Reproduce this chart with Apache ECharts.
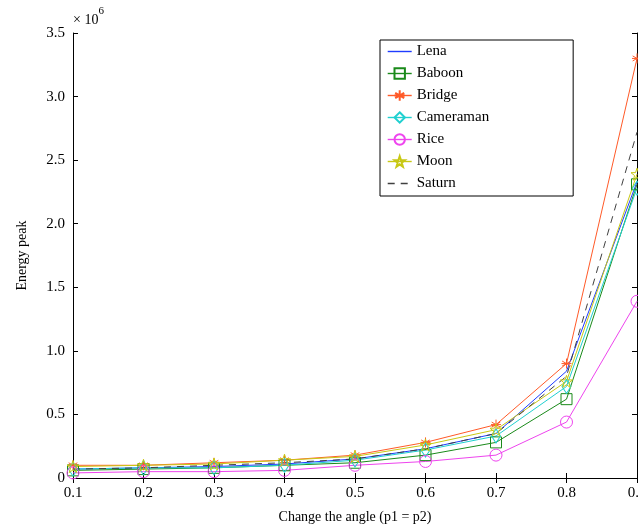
<!DOCTYPE html>
<html>
<head>
<meta charset="utf-8">
<script src="https://cdn.jsdelivr.net/npm/echarts@6/dist/echarts.min.js"></script>
<style>
  html, body { margin: 0; padding: 0; background: #fff; }
  #main { width: 638px; height: 525px; }
</style>
</head>
<body>
<div id="main"></div>
<script>
// angles on the x axis
var angles = ['0.1', '0.2', '0.3', '0.4', '0.5', '0.6', '0.7', '0.8', '0.9'];
// energy peak values, in units of 10^6
var lena      = [0.07, 0.08, 0.09, 0.11, 0.15, 0.23, 0.35, 0.84, 2.33];
var baboon    = [0.06, 0.07, 0.08, 0.10, 0.12, 0.18, 0.28, 0.62, 2.31];
var bridge    = [0.10, 0.10, 0.12, 0.14, 0.18, 0.28, 0.42, 0.90, 3.30];
var cameraman = [0.07, 0.08, 0.08, 0.10, 0.14, 0.22, 0.33, 0.72, 2.28];
var rice      = [0.04, 0.05, 0.05, 0.06, 0.10, 0.13, 0.18, 0.44, 1.39];
var moon      = [0.09, 0.10, 0.11, 0.14, 0.17, 0.26, 0.38, 0.76, 2.39];
var saturn    = [0.07, 0.08, 0.10, 0.12, 0.15, 0.23, 0.35, 0.80, 2.72];
var yTicks = ['0', '0.5', '1.0', '1.5', '2.0', '2.5', '3.0', '3.5'];

var font = 'Liberation Serif';
var asterisk = 'path://M0,-10L0,10M-8.66,-5L8.66,5M-8.66,5L8.66,-5M-10,0L10,0';
var pentagram = 'path://M0,-10L2.35,-3.24L9.51,-3.09L3.8,1.24L5.88,8.09L0,4L-5.88,8.09L-3.8,1.24L-9.51,-3.09L-2.35,-3.24Z';

var myChart = echarts.init(document.getElementById('main'));

function scale(arr) {
    return arr.map(function (v) { return v * 1e6; });
}

function mkSeries(name, data, color, symbol, size, dashed) {
    return {
        name: name,
        type: 'line',
        data: scale(data),
        symbol: symbol || 'none',
        symbolSize: size || 10,
        showSymbol: !!symbol,
        lineStyle: { color: color, width: 1, type: dashed ? [7, 6] : 'solid' },
        itemStyle: { color: 'transparent', borderColor: color, borderWidth: 1 },
        emphasis: { disabled: true },
        animation: false,
        z: 3
    };
}

var series = [
    mkSeries('Lena', lena, '#1f3cff'),
    mkSeries('Baboon', baboon, '#1a8a1a', 'rect', 11),
    mkSeries('Bridge', bridge, '#ff5a28', asterisk, 10),
    mkSeries('Cameraman', cameraman, '#20d0d0', 'diamond', [9, 14]),
    mkSeries('Rice', rice, '#ee44ee', 'circle', 12),
    mkSeries('Moon', moon, '#c8c814', pentagram, 12),
    mkSeries('Saturn', saturn, '#404040', null, null, true)
];

// legend entries: no marker for line-only series
var legendData = series.map(function (s) {
    var item = { name: s.name };
    if (s.symbol === 'none') {
        item.itemStyle = { color: 'transparent', borderColor: 'transparent', borderWidth: 0 };
    }
    return item;
});

var option = {
    backgroundColor: '#fff',
    animation: false,
    grid: { left: 73, right: 1, top: 33, bottom: 47, outerBoundsMode: 'none', containLabel: false },
    legend: {
        left: 380,
        top: 40,
        orient: 'vertical',
        backgroundColor: '#fff',
        borderColor: '#000',
        borderWidth: 1,
        padding: [4, 84, 5, 7],
        itemGap: 7,
        itemWidth: 24,
        itemHeight: 13,
        lineStyle: { width: 1.4 },
        textStyle: { fontFamily: font, fontSize: 15, color: '#000' },
        data: legendData
    },
    graphic: [{
        type: 'text',
        left: 73,
        top: 6,
        style: {
            text: '{a|× 10}{b|6}',
            rich: {
                a: { fontFamily: font, fontSize: 14, fill: '#000', padding: [7, 0, 0, 0] },
                b: { fontFamily: font, fontSize: 11, fill: '#000', verticalAlign: 'top' }
            }
        }
    }],
    xAxis: [{
        type: 'category',
        data: angles,
        boundaryGap: false,
        name: 'Change the angle (p1 = p2)',
        nameLocation: 'middle',
        nameGap: 32,
        nameTextStyle: { fontFamily: font, fontSize: 14, color: '#000' },
        axisLine: { lineStyle: { color: '#000' } },
        axisTick: { inside: true, length: 5, alignWithLabel: true, lineStyle: { color: '#000' } },
        axisLabel: { interval: 0, fontFamily: font, fontSize: 15, color: '#000', margin: 8 },
        splitLine: { show: false }
    }, {
        type: 'category',
        data: angles,
        boundaryGap: false,
        position: 'top',
        axisLine: { lineStyle: { color: '#000' } },
        axisTick: { inside: true, length: 5, lineStyle: { color: '#000' } },
        axisLabel: { show: false },
        splitLine: { show: false }
    }],
    yAxis: [{
        type: 'value',
        min: 0,
        max: 3.5e6,
        interval: 0.5e6,
        name: 'Energy peak',
        nameLocation: 'middle',
        nameGap: 44,
        nameTextStyle: { fontFamily: font, fontSize: 14, color: '#000' },
        axisLine: { show: true, lineStyle: { color: '#000' } },
        axisTick: { show: true, inside: true, length: 5, lineStyle: { color: '#000' } },
        axisLabel: {
            fontFamily: font, fontSize: 15, color: '#000', margin: 8,
            formatter: function (v) { return yTicks[Math.round(v / 0.5e6)]; }
        },
        splitLine: { show: false }
    }, {
        type: 'value',
        min: 0,
        max: 3.5e6,
        interval: 0.5e6,
        position: 'right',
        axisLine: { show: true, lineStyle: { color: '#000' } },
        axisTick: { show: true, inside: true, length: 5, lineStyle: { color: '#000' } },
        axisLabel: { show: false },
        splitLine: { show: false }
    }],
    series: series
};

myChart.setOption(option);

window.addEventListener('resize', function () {
    myChart.resize();
});
</script>
</body>
</html>
